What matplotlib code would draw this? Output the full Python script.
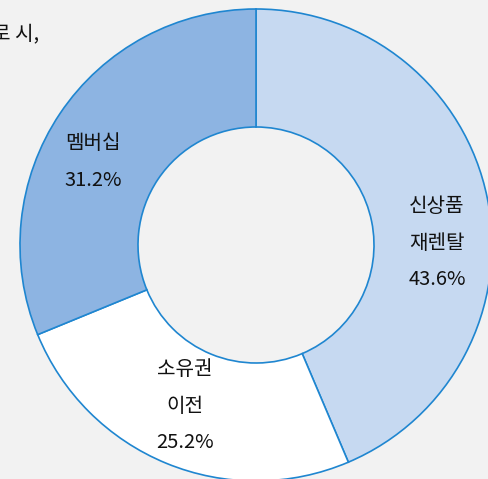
import matplotlib
matplotlib.use("Agg")
import matplotlib.pyplot as plt

plt.rcParams['font.family'] = ['Noto Sans CJK KR', 'DejaVu Sans']

categories = ["신상품\n재렌탈", "소유권\n이전", "멤버십"]
shares = [43.6, 25.2, 31.2]
slice_colors = ["#c6d9f1", "#ffffff", "#8db4e2"]
label_pos = [(437, 236), (185, 73), (93, 317)]

BG = "#f2f2f2"
EDGE = "#1f86d0"
TEXT = "#111111"

fig = plt.figure(figsize=(4.89, 4.79), dpi=100)
fig.patch.set_facecolor(BG)
ax = fig.add_axes([0, 0, 1, 1])
ax.set_facecolor(BG)

ax.pie(shares, colors=slice_colors, startangle=90, counterclock=False,
       center=(256, 234), radius=236, frame=True,
       wedgeprops=dict(width=118, edgecolor=EDGE, linewidth=1.2))

for name, val, (x, y) in zip(categories, shares, label_pos):
    ax.text(x, y, f"{name}\n{val:.1f}%", ha="center", va="center",
            fontsize=14.5, color=TEXT, linespacing=1.95)

ax.text(-8, 445, "로 시,", ha="left", va="center", fontsize=14.5, color=TEXT)

ax.set_xlim(0, 489)
ax.set_ylim(0, 479)
ax.set_aspect("auto")
ax.axis("off")

fig.savefig("out.png", dpi=100, facecolor=BG)
